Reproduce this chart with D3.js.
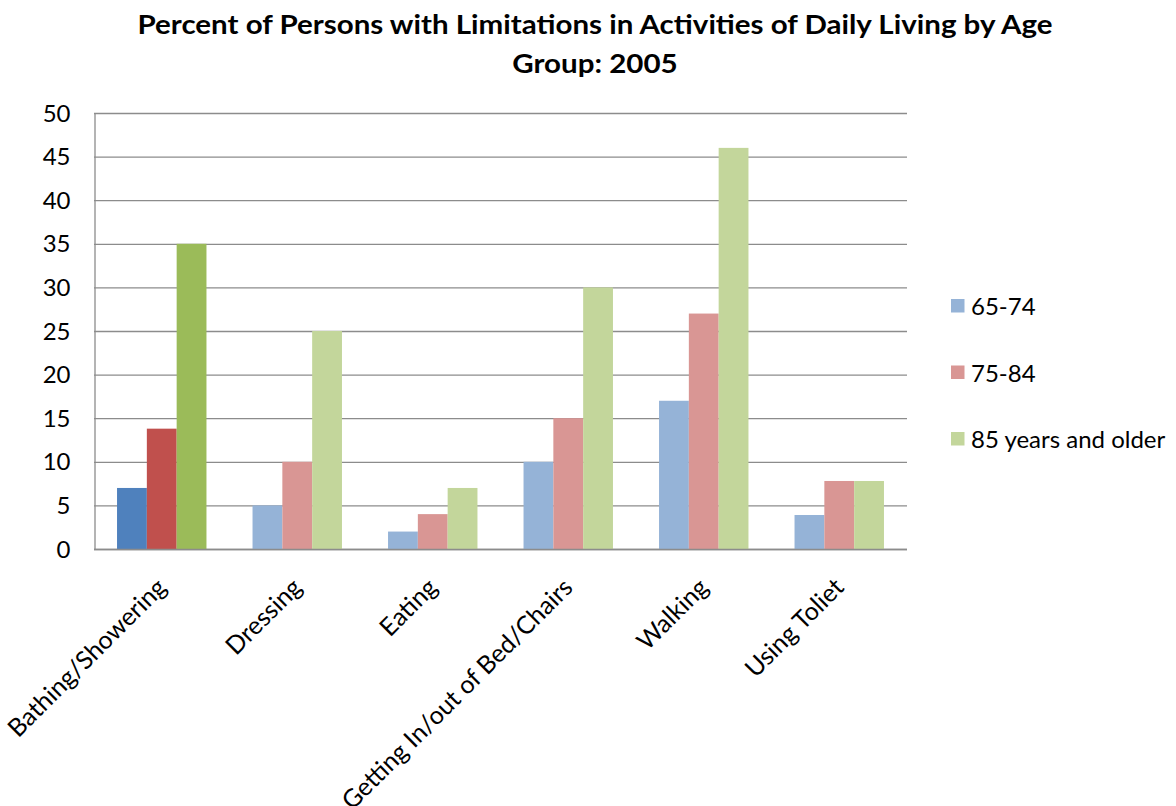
<!DOCTYPE html>
<html>
<head>
<meta charset="utf-8">
<script src="https://cdn.jsdelivr.net/npm/d3@7"></script>
<style>
  html, body { margin: 0; padding: 0; background: #fff; }
  svg { display: block; }
  text { font-family: Lato, "Open Sans", "DejaVu Sans", sans-serif; fill: #000; }
</style>
</head>
<body>
<svg id="chart" width="1176" height="806"></svg>
<script>
// Activities and age groups
const categories = ["Bathing/Showering", "Dressing", "Eating", "Getting In/out of Bed/Chairs", "Walking", "Using Toliet"];
const seriesNames = ["65-74", "75-84", "85 years and older"];
const age65to74 = [7, 5, 2, 10, 17, 3.9];
const age75to84 = [13.8, 10, 4, 15, 27, 7.8];
const age85plus = [35, 25, 7, 30, 46, 7.8];
const yTicks = [0, 5, 10, 15, 20, 25, 30, 35, 40, 45, 50];

const seriesValues = [age65to74, age75to84, age85plus];
const baseColors = ["#95B3D7", "#D99694", "#C3D69B"];
const strongColors = ["#4F81BD", "#C0504D", "#9BBB59"]; // first category is emphasised

const svg = d3.select("#chart");
const plot = { left: 94, right: 907, top: 113, bottom: 549 };
const font = "Lato, 'Open Sans', sans-serif";

const x = d3.scaleBand().domain(categories).range([plot.left, plot.right]).paddingInner(0.34).paddingOuter(0.17);
const xs = d3.scaleBand().domain(d3.range(seriesNames.length)).range([0, x.bandwidth()]);
const y = d3.scaleLinear().domain([0, 50]).range([plot.bottom, plot.top]);

// Title (two lines, widened slightly to the chart's title width)
const titleLines = ["Percent of Persons with Limitations in Activities of Daily Living by Age", "Group: 2005"];
const title = svg.append("g").selectAll("text").data(titleLines).join("text")
  .attr("x", 595).attr("y", (d, i) => 34 + i * 39).attr("text-anchor", "middle")
  .style("font-weight", "bold").style("font-size", "26px")
  .text(d => d);
const natural = title.nodes().map(n => n.getComputedTextLength());
const stretch = 915 / natural[0];
title.attr("textLength", (d, i) => natural[i] * stretch).attr("lengthAdjust", "spacingAndGlyphs");

// Gridlines
svg.append("g").selectAll("line").data(yTicks).join("line")
  .attr("x1", plot.left).attr("x2", plot.right)
  .attr("y1", d => y(d) + 0.5).attr("y2", d => y(d) + 0.5)
  .attr("stroke", "#8c8c8c").attr("stroke-width", 1.3);

// Y axis
const yAxis = d3.axisLeft(y).tickValues(yTicks).tickSize(0).tickPadding(24);
const gy = svg.append("g").attr("transform", `translate(${plot.left + 0.5},0.5)`).call(yAxis);
gy.select(".domain").attr("stroke", "#8c8c8c").attr("stroke-width", 1.3);
gy.selectAll("text").style("font-size", "24px").style("font-family", font).attr("fill", "#000");

// Bars
const groups = svg.append("g").selectAll("g").data(categories).join("g")
  .attr("transform", d => `translate(${x(d)},0)`);
groups.selectAll("rect")
  .data((c, i) => seriesValues.map((vals, s) => ({ s, v: vals[i], first: i === 0 })))
  .join("rect")
  .attr("x", d => xs(d.s))
  .attr("width", xs.bandwidth())
  .attr("y", d => y(d.v))
  .attr("height", d => y(0) - y(d.v))
  .attr("fill", d => d.first ? strongColors[d.s] : baseColors[d.s]);

// Baseline on top of bars
svg.append("line").attr("x1", plot.left).attr("x2", plot.right)
  .attr("y1", y(0) + 0.5).attr("y2", y(0) + 0.5)
  .attr("stroke", "#8c8c8c").attr("stroke-width", 1.3);

// Category labels, rotated
svg.append("g").selectAll("text").data(categories).join("text")
  .attr("text-anchor", "end")
  .attr("transform", d => `translate(${x(d) + x.bandwidth() / 2 + 6},${plot.bottom + 40}) rotate(-45)`)
  .style("font-size", "25px")
  .text(d => d);

// Legend
const legend = svg.append("g").selectAll("g").data(seriesNames).join("g")
  .attr("transform", (d, i) => `translate(951,${299 + i * 66.5})`);
legend.append("rect").attr("width", 13.5).attr("height", 13.5).attr("fill", (d, i) => baseColors[i]);
legend.append("text").attr("x", 20).attr("y", 16).style("font-size", "24px").text(d => d);
</script>
</body>
</html>
